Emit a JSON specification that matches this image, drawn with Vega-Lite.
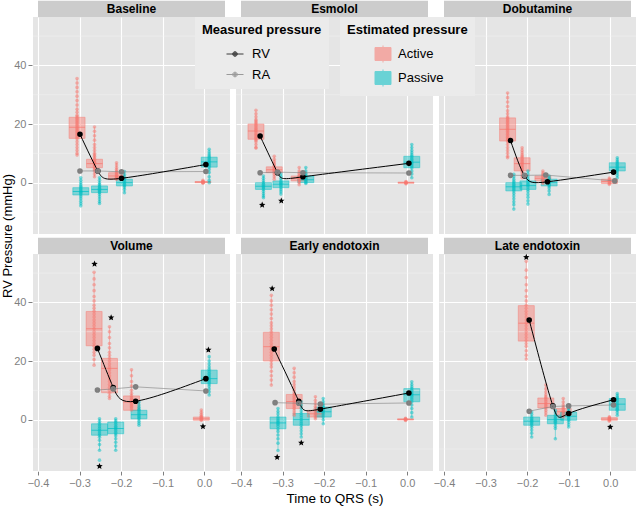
{
  "$schema": "https://vega.github.io/schema/vega-lite/v6.json",
  "padding": {"left": 1, "top": 0, "right": 1, "bottom": 0},
  "background": "white",
  "data": {"values": [
    {"k":"s","r":1,"c":1,"p":"Baseline"},
    {"k":"s","r":1,"c":2,"p":"Esmolol"},
    {"k":"s","r":1,"c":3,"p":"Dobutamine"},
    {"k":"s","r":2,"c":1,"p":"Volume"},
    {"k":"s","r":2,"c":2,"p":"Early endotoxin"},
    {"k":"s","r":2,"c":3,"p":"Late endotoxin"},

    {"k":"m","r":1,"c":1,"m":"RV","t":-0.299,"v":16.5},
    {"k":"m","r":1,"c":1,"m":"RV","t":-0.256,"v":4.0},
    {"k":"m","r":1,"c":1,"m":"RV","t":-0.199,"v":1.5},
    {"k":"m","r":1,"c":1,"m":"RV","t":0.004,"v":6.2},
    {"k":"m","r":1,"c":1,"m":"RA","t":-0.299,"v":4.0},
    {"k":"m","r":1,"c":1,"m":"RA","t":-0.256,"v":4.0},
    {"k":"m","r":1,"c":1,"m":"RA","t":-0.199,"v":3.7},
    {"k":"m","r":1,"c":1,"m":"RA","t":0.004,"v":3.8},

    {"k":"m","r":1,"c":2,"m":"RV","t":-0.354,"v":15.9},
    {"k":"m","r":1,"c":2,"m":"RV","t":-0.312,"v":3.4},
    {"k":"m","r":1,"c":2,"m":"RV","t":-0.251,"v":2.0},
    {"k":"m","r":1,"c":2,"m":"RV","t":0.004,"v":6.6},
    {"k":"m","r":1,"c":2,"m":"RA","t":-0.354,"v":3.4},
    {"k":"m","r":1,"c":2,"m":"RA","t":-0.312,"v":3.6},
    {"k":"m","r":1,"c":2,"m":"RA","t":-0.251,"v":3.4},
    {"k":"m","r":1,"c":2,"m":"RA","t":0.004,"v":3.3},

    {"k":"m","r":1,"c":3,"m":"RV","t":-0.24,"v":14.4},
    {"k":"m","r":1,"c":3,"m":"RV","t":-0.206,"v":2.3},
    {"k":"m","r":1,"c":3,"m":"RV","t":-0.151,"v":0.3},
    {"k":"m","r":1,"c":3,"m":"RV","t":0.008,"v":3.6},
    {"k":"m","r":1,"c":3,"m":"RA","t":-0.24,"v":2.5},
    {"k":"m","r":1,"c":3,"m":"RA","t":-0.206,"v":2.5},
    {"k":"m","r":1,"c":3,"m":"RA","t":-0.155,"v":2.6},
    {"k":"m","r":1,"c":3,"m":"RA","t":0.011,"v":0.6},

    {"k":"m","r":2,"c":1,"m":"RV","t":-0.257,"v":24.3},
    {"k":"m","r":2,"c":1,"m":"RV","t":-0.219,"v":11.0},
    {"k":"m","r":2,"c":1,"m":"RV","t":-0.165,"v":6.3},
    {"k":"m","r":2,"c":1,"m":"RV","t":0.004,"v":14.0},
    {"k":"m","r":2,"c":1,"m":"RA","t":-0.257,"v":10.1},
    {"k":"m","r":2,"c":1,"m":"RA","t":-0.219,"v":10.5},
    {"k":"m","r":2,"c":1,"m":"RA","t":-0.165,"v":11.2},
    {"k":"m","r":2,"c":1,"m":"RA","t":0.004,"v":9.8},

    {"k":"m","r":2,"c":2,"m":"RV","t":-0.32,"v":24.1},
    {"k":"m","r":2,"c":2,"m":"RV","t":-0.261,"v":6.3},
    {"k":"m","r":2,"c":2,"m":"RV","t":-0.209,"v":3.6},
    {"k":"m","r":2,"c":2,"m":"RV","t":0.004,"v":9.1},
    {"k":"m","r":2,"c":2,"m":"RA","t":-0.318,"v":5.8},
    {"k":"m","r":2,"c":2,"m":"RA","t":-0.261,"v":5.6},
    {"k":"m","r":2,"c":2,"m":"RA","t":-0.209,"v":5.3},
    {"k":"m","r":2,"c":2,"m":"RA","t":0.004,"v":5.7},

    {"k":"m","r":2,"c":3,"m":"RV","t":-0.195,"v":34.0},
    {"k":"m","r":2,"c":3,"m":"RV","t":-0.138,"v":4.7},
    {"k":"m","r":2,"c":3,"m":"RV","t":-0.1,"v":2.1},
    {"k":"m","r":2,"c":3,"m":"RV","t":0.008,"v":6.8},
    {"k":"m","r":2,"c":3,"m":"RA","t":-0.195,"v":2.9},
    {"k":"m","r":2,"c":3,"m":"RA","t":-0.138,"v":4.5},
    {"k":"m","r":2,"c":3,"m":"RA","t":-0.1,"v":4.7},
    {"k":"m","r":2,"c":3,"m":"RA","t":0.008,"v":5.0},

    {"k":"x","r":1,"c":2,"t":-0.349,"v":-7.6},
    {"k":"x","r":1,"c":2,"t":-0.303,"v":-6.2},
    {"k":"x","r":2,"c":1,"t":-0.264,"v":53.1},
    {"k":"x","r":2,"c":1,"t":-0.224,"v":34.8},
    {"k":"x","r":2,"c":1,"t":0.010,"v":23.8},
    {"k":"x","r":2,"c":1,"t":-0.003,"v":-2.3},
    {"k":"x","r":2,"c":1,"t":-0.252,"v":-15.9},
    {"k":"x","r":2,"c":2,"t":-0.325,"v":44.7},
    {"k":"x","r":2,"c":2,"t":-0.313,"v":-12.8},
    {"k":"x","r":2,"c":2,"t":-0.255,"v":-7.9},
    {"k":"x","r":2,"c":3,"t":-0.202,"v":55.4},
    {"k":"x","r":2,"c":3,"t":0.0,"v":-2.5},

    {"k":"b","r":1,"c":1,"g":"Active","t":-0.306,"lo":9.4,"q1":15.1,"md":18.9,"q3":22.3,"hi":35.5,"pts":[35.5,34,32.5,31,29.5,28,26.5,25,24,23,22.5,22,21.5,21,20.5,20,19.5,19,18.5,18,17.5,17,16.5,16,15.5,15,14,13,12,11,10,9.4]},
    {"k":"b","r":1,"c":1,"g":"Active","t":-0.264,"lo":2,"q1":5.1,"md":6.5,"q3":8,"hi":19,"pts":[19,17.5,16,14.5,13,12,11,10,9.5,9,8.5,8,7.5,7,6.5,6,5.5,5,4.5,4,3,2]},
    {"k":"b","r":1,"c":1,"g":"Active","t":-0.211,"lo":1.2,"q1":1.2,"md":2.3,"q3":3.4,"hi":6.8,"pts":[6.8,6,5.2,4.5,4,3.5,3,2.7,2.3,2,1.7,1.4,1.2]},
    {"k":"b","r":1,"c":1,"g":"Active","t":-0.003,"lo":-0.2,"q1":0,"md":0.2,"q3":0.4,"hi":0.8,"pts":[0.8,0.5,0.3,0.2,0.1,0,-0.2]},
    {"k":"b","r":1,"c":1,"g":"Passive","t":-0.297,"lo":-7.9,"q1":-4.2,"md":-3,"q3":-1.7,"hi":1.7,"pts":[1.7,0.8,0,-0.7,-1.2,-1.7,-2.1,-2.5,-2.9,-3.3,-3.7,-4.2,-4.8,-5.5,-6.3,-7.1,-7.9]},
    {"k":"b","r":1,"c":1,"g":"Passive","t":-0.252,"lo":-7.1,"q1":-3.4,"md":-2.3,"q3":-1.1,"hi":1.7,"pts":[1.7,0.8,0,-0.6,-1.1,-1.5,-1.9,-2.3,-2.7,-3.1,-3.4,-4,-4.8,-5.6,-6.4,-7.1]},
    {"k":"b","r":1,"c":1,"g":"Passive","t":-0.192,"lo":-3.4,"q1":-1.1,"md":0,"q3":1.2,"hi":3.8,"pts":[3.8,2.8,2,1.5,1,0.5,0,-0.5,-1,-1.5,-2.3,-3.4]},
    {"k":"b","r":1,"c":1,"g":"Passive","t":0.012,"lo":0,"q1":5.3,"md":7.1,"q3":8.7,"hi":11.4,"pts":[11.4,10.5,9.8,9.2,8.7,8.2,7.7,7.2,6.8,6.3,5.8,5.3,4.5,3.5,2,0.8,0]},

    {"k":"b","r":1,"c":2,"g":"Active","t":-0.364,"lo":11.8,"q1":14.8,"md":17.6,"q3":20,"hi":24.7,"pts":[24.7,23.5,22.5,21.5,21,20.5,20,19.5,19,18.5,18,17.6,17,16.5,16,15.5,15,14.5,14,13,12,11.8]},
    {"k":"b","r":1,"c":2,"g":"Active","t":-0.32,"lo":1.2,"q1":3.4,"md":4.4,"q3":5.4,"hi":9,"pts":[9,8,7.2,6.5,6,5.5,5,4.6,4.2,3.8,3.4,2.8,2,1.2]},
    {"k":"b","r":1,"c":2,"g":"Active","t":-0.26,"lo":-0.7,"q1":0.6,"md":1.4,"q3":2.3,"hi":5.2,"pts":[5.2,4,3.2,2.6,2.2,1.8,1.4,1,0.6,0.1,-0.7]},
    {"k":"b","r":1,"c":2,"g":"Active","t":-0.003,"lo":-0.4,"q1":-0.2,"md":0,"q3":0.2,"hi":0.4,"pts":[0.4,0.2,0,-0.2,-0.4]},
    {"k":"b","r":1,"c":2,"g":"Passive","t":-0.346,"lo":-5.1,"q1":-2.3,"md":-1.2,"q3":0,"hi":2.3,"pts":[2.3,1.5,0.7,0,-0.5,-1,-1.4,-1.8,-2.3,-3,-3.8,-4.5,-5.1]},
    {"k":"b","r":1,"c":2,"g":"Passive","t":-0.304,"lo":-3.9,"q1":-1.7,"md":-0.5,"q3":0.6,"hi":3,"pts":[3,2.2,1.4,0.6,0.1,-0.3,-0.7,-1.1,-1.7,-2.4,-3.1,-3.9]},
    {"k":"b","r":1,"c":2,"g":"Passive","t":-0.244,"lo":-0.3,"q1":0,"md":1,"q3":2.3,"hi":5.2,"pts":[5.2,4,3.2,2.6,2.2,1.8,1.3,0.9,0.5,0.1,-0.3]},
    {"k":"b","r":1,"c":2,"g":"Passive","t":0.011,"lo":1.7,"q1":5.1,"md":7,"q3":9,"hi":13,"pts":[13,12,11,10.2,9.5,9,8.5,8,7.5,7,6.5,6,5.5,5,4,3,1.7]},

    {"k":"b","r":1,"c":3,"g":"Active","t":-0.247,"lo":8.5,"q1":14.2,"md":18.2,"q3":22.1,"hi":30.6,"pts":[30.6,29,27.5,26,24.5,23.5,22.5,22,21.5,21,20.5,20,19.5,19,18.5,18,17.5,17,16.5,16,15.5,15,14.5,14,13,12,11,10,9,8.5]},
    {"k":"b","r":1,"c":3,"g":"Active","t":-0.212,"lo":1.7,"q1":4,"md":6.5,"q3":8.5,"hi":11.9,"pts":[11.9,11,10.2,9.5,9,8.5,8,7.5,7,6.5,6,5.5,5,4.5,4,3.3,2.5,1.7]},
    {"k":"b","r":1,"c":3,"g":"Active","t":-0.162,"lo":-0.3,"q1":0.6,"md":1.5,"q3":2.3,"hi":4,"pts":[4,3.3,2.8,2.3,1.9,1.5,1.1,0.6,0.2,-0.3]},
    {"k":"b","r":1,"c":3,"g":"Active","t":-0.002,"lo":-0.6,"q1":-0.3,"md":0.4,"q3":1.2,"hi":1.6,"pts":[1.6,1.2,0.8,0.4,0,-0.3,-0.6]},
    {"k":"b","r":1,"c":3,"g":"Passive","t":-0.232,"lo":-9,"q1":-2.8,"md":-1.4,"q3":0,"hi":2.9,"pts":[2.9,2,1.2,0.5,0,-0.5,-1,-1.4,-1.8,-2.3,-2.8,-3.6,-4.5,-5.5,-6.5,-7.5,-9]},
    {"k":"b","r":1,"c":3,"g":"Passive","t":-0.198,"lo":-7.3,"q1":-2.3,"md":-1,"q3":0.6,"hi":4,"pts":[4,3,2,1.2,0.6,0,-0.5,-1,-1.5,-2.3,-3,-4,-5,-6.2,-7.3]},
    {"k":"b","r":1,"c":3,"g":"Passive","t":-0.147,"lo":-4,"q1":-1.1,"md":0,"q3":1.2,"hi":2.3,"pts":[2.3,1.6,1.2,0.7,0.3,0,-0.4,-0.8,-1.1,-1.8,-2.8,-4]},
    {"k":"b","r":1,"c":3,"g":"Passive","t":0.017,"lo":1.7,"q1":4,"md":5.3,"q3":6.8,"hi":8.5,"pts":[8.5,7.8,7.2,6.8,6.3,5.8,5.3,4.8,4.4,4,3.3,2.5,1.7]},

    {"k":"b","r":2,"c":1,"g":"Active","t":-0.265,"lo":18.6,"q1":25.2,"md":31,"q3":36.9,"hi":50.3,"pts":[50.3,48,46,44,42,40.5,39,38,37,36,35,34,33,32,31,30,29,28,27,26,25,24,23,22,20.5,18.6]},
    {"k":"b","r":2,"c":1,"g":"Active","t":-0.228,"lo":7.2,"q1":9.2,"md":17.5,"q3":20.9,"hi":31.7,"pts":[31.7,30,28,26,24.5,23,22,21,20,19,18,17,16,15,14,13,12,11,10,9,8,7.2]},
    {"k":"b","r":2,"c":1,"g":"Active","t":-0.175,"lo":3.2,"q1":3.2,"md":6,"q3":8.1,"hi":17,"pts":[17,15,13,11.5,10,9,8.2,7.5,7,6.5,6,5.5,5,4.5,4,3.3]},
    {"k":"b","r":2,"c":1,"g":"Active","t":-0.007,"lo":-0.2,"q1":-0.2,"md":0.3,"q3":0.9,"hi":3.3,"pts":[3.3,2.5,1.8,1.2,0.9,0.6,0.3,0,-0.2]},
    {"k":"b","r":2,"c":1,"g":"Passive","t":-0.252,"lo":-10.4,"q1":-5.3,"md":-3.6,"q3":-1.4,"hi":0.3,"pts":[0.3,-0.5,-1.2,-1.8,-2.4,-3,-3.6,-4.2,-4.8,-5.3,-6,-7,-8.5,-10.4,-13.8]},
    {"k":"b","r":2,"c":1,"g":"Passive","t":-0.213,"lo":-10.4,"q1":-4.8,"md":-3,"q3":-0.8,"hi":0.3,"pts":[0.3,-0.4,-1,-1.6,-2.2,-2.7,-3.2,-3.7,-4.3,-4.8,-5.5,-6.5,-7.7,-9,-10.4]},
    {"k":"b","r":2,"c":1,"g":"Passive","t":-0.157,"lo":-1.9,"q1":0.3,"md":1.7,"q3":3.2,"hi":6,"pts":[6,5,4.2,3.6,3.2,2.7,2.2,1.7,1.2,0.7,0.3,-0.5,-1.2,-1.9]},
    {"k":"b","r":2,"c":1,"g":"Passive","t":0.012,"lo":8.4,"q1":12.3,"md":14,"q3":16.9,"hi":21.5,"pts":[21.5,20,19,18,17.2,16.5,15.8,15.2,14.6,14,13.4,12.8,12.2,11.5,10.5,9.5,8.4]},

    {"k":"b","r":2,"c":2,"g":"Active","t":-0.327,"lo":11.8,"q1":20,"md":24.9,"q3":29.8,"hi":42.4,"pts":[42.4,40.5,39,37.5,36,34.5,33,32,31,30,29,28,27,26,25,24,23,22,21,20,19,18,16.5,15,13.5,11.8]},
    {"k":"b","r":2,"c":2,"g":"Active","t":-0.272,"lo":1.5,"q1":3.8,"md":6.2,"q3":8.6,"hi":17.5,"pts":[17.5,16,14.5,13,12,11,10,9.2,8.6,8,7.4,6.8,6.2,5.6,5,4.4,3.8,3,2.2,1.5]},
    {"k":"b","r":2,"c":2,"g":"Active","t":-0.221,"lo":0.3,"q1":0.9,"md":2,"q3":3.2,"hi":7.8,"pts":[7.8,6.5,5.5,4.6,3.9,3.2,2.6,2,1.5,0.9,0.3]},
    {"k":"b","r":2,"c":2,"g":"Active","t":-0.004,"lo":-0.3,"q1":-0.1,"md":0.1,"q3":0.3,"hi":0.5,"pts":[0.5,0.3,0.1,-0.1,-0.3]},
    {"k":"b","r":2,"c":2,"g":"Passive","t":-0.311,"lo":-10.5,"q1":-3.1,"md":-1.1,"q3":0.9,"hi":3.8,"pts":[3.8,2.8,1.9,0.9,0.3,-0.3,-0.8,-1.1,-1.6,-2.2,-3.1,-4,-5.2,-6.5,-8,-10.5]},
    {"k":"b","r":2,"c":2,"g":"Passive","t":-0.255,"lo":-5.9,"q1":-1.9,"md":0,"q3":2.1,"hi":6.1,"pts":[6.1,5,4,3,2.1,1.4,0.7,0,-0.7,-1.3,-1.9,-2.8,-3.8,-4.8,-5.9]},
    {"k":"b","r":2,"c":2,"g":"Passive","t":-0.202,"lo":-1.4,"q1":0.9,"md":2.7,"q3":4.3,"hi":7.2,"pts":[7.2,6.2,5.4,4.8,4.3,3.7,3.2,2.7,2.2,1.6,0.9,0,-1.4]},
    {"k":"b","r":2,"c":2,"g":"Passive","t":0.011,"lo":0.9,"q1":6.1,"md":8.5,"q3":10.6,"hi":12.9,"pts":[12.9,12,11.2,10.6,10,9.4,8.8,8.5,8,7.4,6.8,6.1,5,3.8,2.4,0.9]},

    {"k":"b","r":2,"c":3,"g":"Active","t":-0.202,"lo":20.7,"q1":26.8,"md":32.9,"q3":38.9,"hi":54,"pts":[54,51,48.5,46,44,42,40.5,39,38,37,36,35,34,33,32,31,30,29,28,27,26,25,23.5,22,20.7]},
    {"k":"b","r":2,"c":3,"g":"Active","t":-0.155,"lo":1.5,"q1":4,"md":5.5,"q3":7.4,"hi":11.8,"pts":[11.8,10.5,9.4,8.5,7.8,7.4,6.8,6.2,5.5,5,4.5,4,3.2,2.4,1.5]},
    {"k":"b","r":2,"c":3,"g":"Active","t":-0.113,"lo":0.9,"q1":1.5,"md":2.7,"q3":3.8,"hi":7.2,"pts":[7.2,6,5,4.3,3.8,3.3,2.7,2.2,1.5,0.9]},
    {"k":"b","r":2,"c":3,"g":"Active","t":-0.002,"lo":-0.5,"q1":-0.2,"md":0.2,"q3":0.7,"hi":1,"pts":[1,0.7,0.4,0.2,0,-0.2,-0.5]},
    {"k":"b","r":2,"c":3,"g":"Passive","t":-0.189,"lo":-5.9,"q1":-1.9,"md":-0.5,"q3":0.9,"hi":2.6,"pts":[2.6,1.8,0.9,0.4,-0.1,-0.5,-1,-1.4,-1.9,-2.6,-3.5,-4.6,-5.9]},
    {"k":"b","r":2,"c":3,"g":"Passive","t":-0.132,"lo":-6.5,"q1":-1.4,"md":0,"q3":1.5,"hi":3.2,"pts":[3.2,2.4,1.5,0.9,0.4,0,-0.5,-0.9,-1.4,-2.2,-3,-6.5]},
    {"k":"b","r":2,"c":3,"g":"Passive","t":-0.1,"lo":-2.5,"q1":-0.2,"md":1.2,"q3":2.6,"hi":3.8,"pts":[3.8,3.2,2.6,2,1.6,1.2,0.7,0.2,-0.2,-0.9,-1.7,-2.5]},
    {"k":"b","r":2,"c":3,"g":"Passive","t":0.017,"lo":1.5,"q1":3.2,"md":5.3,"q3":7.2,"hi":8.9,"pts":[8.9,8.2,7.6,7.2,6.6,6,5.3,4.7,4.1,3.6,3.2,2.4,1.5]}
  ]},
  "facet": {
    "row": {"field": "r", "type": "ordinal", "header": {"labels": false, "labelPadding": 0, "title": "RV Pressure (mmHg)", "titleOrient": "left", "titleFontSize": 13, "titleFontWeight": "normal", "titleFont": "Liberation Sans", "titleColor": "black", "titlePadding": -12}},
    "column": {"field": "c", "type": "ordinal", "header": {"labels": false, "title": "Time to QRS (s)", "titleOrient": "bottom", "titleFontSize": 13.5, "titleFontWeight": "normal", "titleFont": "Liberation Sans", "titleColor": "black", "titlePadding": -6, "labelPadding": 0}}
  },
  "spacing": {"row": 3, "column": 4},
  "spec": {
    "width": 197,
    "height": 217,
    "layer": [
      {
        "transform": [{"filter": "datum.k === 'b'"}],
        "mark": {"type": "bar", "size": 16, "opacity": 0.45},
        "encoding": {
          "x": {"field": "t", "type": "quantitative", "scale": {"domain": [-0.4, 0.05], "nice": false, "zero": false},
                "axis": {"title": null, "values": [-0.4,-0.35,-0.3,-0.25,-0.2,-0.15,-0.1,-0.05,0], "format": ".1f",
                         "labelExpr": "abs(datum.value*10 - round(datum.value*10)) < 0.001 ? datum.label : ''",
                         "gridWidth": {"condition": {"test": "abs(datum.value*10 - round(datum.value*10)) < 0.001", "value": 1.1}, "value": 0.5},
                         "gridColor": {"condition": {"test": "abs(datum.value*10 - round(datum.value*10)) < 0.001", "value": "#FFFFFF"}, "value": "#F2F2F2"},
                         "tickOpacity": {"condition": {"test": "abs(datum.value*10 - round(datum.value*10)) < 0.001", "value": 1}, "value": 0}}},
          "y": {"field": "q1", "type": "quantitative", "scale": {"domain": [-17.5, 56.5], "nice": false, "zero": false},
                "axis": {"title": null, "values": [0, 20, 40], "grid": true, "gridColor": "#FFFFFF", "gridWidth": 1.1, "labels": true, "ticks": true}},
          "y2": {"field": "q3"},
          "color": {"field": "g", "type": "nominal", "scale": {"domain": ["Active", "Passive"], "range": ["#F8766D", "#00BFC4"]},
                    "legend": {"title": "Estimated pressure", "orient": "none", "legendX": 307, "legendY": 0, "symbolType": "M-0.94,-0.76H0.94V0.76H-0.94Z M0,-1V-0.76 M0,0.76V1 M-0.94,0H0.94", "symbolSize": 289, "symbolOffset": 27, "labelOffset": 6, "symbolOpacity": 0.55, "symbolStrokeWidth": 1, "rowPadding": 2, "titlePadding": 8}}
        }
      },
      {
        "transform": [{"filter": "datum.k === 's'"}],
        "mark": {"type": "rule", "color": "#F2F2F2", "strokeWidth": 0.5},
        "encoding": {"y": {"datum": -10, "type": "quantitative"}}
      },
      {
        "transform": [{"filter": "datum.k === 's'"}],
        "mark": {"type": "rule", "color": "#F2F2F2", "strokeWidth": 0.5},
        "encoding": {"y": {"datum": 10, "type": "quantitative"}}
      },
      {
        "transform": [{"filter": "datum.k === 's'"}],
        "mark": {"type": "rule", "color": "#F2F2F2", "strokeWidth": 0.5},
        "encoding": {"y": {"datum": 30, "type": "quantitative"}}
      },
      {
        "transform": [{"filter": "datum.k === 's'"}],
        "mark": {"type": "rule", "color": "#F2F2F2", "strokeWidth": 0.5},
        "encoding": {"y": {"datum": 50, "type": "quantitative"}}
      },
      {
        "transform": [{"filter": "datum.k === 's'"}],
        "mark": {"type": "rect", "fill": "#CCCCCC", "clip": false},
        "encoding": {
          "x": {"datum": -0.4, "type": "quantitative"},
          "x2": {"datum": 0.05},
          "y": {"datum": 56.5, "type": "quantitative"},
          "y2": {"datum": 62}
        }
      },
      {
        "transform": [{"filter": "datum.k === 's'"}],
        "mark": {"type": "text", "fontWeight": "bold", "fontSize": 12, "font": "Liberation Sans", "baseline": "middle", "align": "center", "color": "black", "clip": false},
        "encoding": {
          "x": {"datum": -0.175, "type": "quantitative"},
          "y": {"datum": 59.3, "type": "quantitative"},
          "text": {"field": "p", "type": "nominal"}
        }
      },
      {
        "transform": [{"filter": "datum.k === 'b'"}],
        "mark": {"type": "bar", "size": 16, "filled": false, "opacity": 0.55, "strokeWidth": 0.8},
        "encoding": {
          "x": {"field": "t", "type": "quantitative"},
          "y": {"field": "q1", "type": "quantitative"},
          "y2": {"field": "q3"},
          "color": {"field": "g", "type": "nominal"}
        }
      },
      {
        "transform": [{"filter": "datum.k === 'b'"}],
        "mark": {"type": "rule", "opacity": 0.55, "strokeWidth": 0.8},
        "encoding": {
          "x": {"field": "t", "type": "quantitative"},
          "y": {"field": "lo", "type": "quantitative"},
          "y2": {"field": "q1"},
          "color": {"field": "g", "type": "nominal"}
        }
      },
      {
        "transform": [{"filter": "datum.k === 'b'"}],
        "mark": {"type": "rule", "opacity": 0.55, "strokeWidth": 0.8},
        "encoding": {
          "x": {"field": "t", "type": "quantitative"},
          "y": {"field": "q3", "type": "quantitative"},
          "y2": {"field": "hi"},
          "color": {"field": "g", "type": "nominal"}
        }
      },
      {
        "transform": [{"filter": "datum.k === 'b'"}],
        "mark": {"type": "tick", "orient": "horizontal", "size": 16, "thickness": 1, "opacity": 0.7},
        "encoding": {
          "x": {"field": "t", "type": "quantitative"},
          "y": {"field": "md", "type": "quantitative"},
          "color": {"field": "g", "type": "nominal"}
        }
      },
      {
        "transform": [{"filter": "datum.k === 'b'"}, {"flatten": ["pts"], "as": ["pv"]}],
        "mark": {"type": "circle", "size": 13, "opacity": 0.5},
        "encoding": {
          "x": {"field": "t", "type": "quantitative"},
          "y": {"field": "pv", "type": "quantitative"},
          "color": {"field": "g", "type": "nominal"}
        }
      },
      {
        "transform": [{"filter": "datum.k === 'm' && datum.m === 'RA'"}],
        "mark": {"type": "line", "strokeWidth": 0.8, "opacity": 0.75},
        "encoding": {
          "x": {"field": "t", "type": "quantitative"},
          "y": {"field": "v", "type": "quantitative"},
          "stroke": {"field": "m", "type": "nominal", "scale": {"domain": ["RV", "RA"], "range": ["#000000", "#7F7F7F"]},
                     "legend": {"title": "Measured pressure", "orient": "none", "legendX": 162, "legendY": 0, "symbolType": "M-1,0H1M0.27,0A0.27,0.27 0 1,1 -0.27,0A0.27,0.27 0 1,1 0.27,0M0.17,0A0.17,0.17 0 1,1 -0.17,0A0.17,0.17 0 1,1 0.17,0M0.07,0A0.07,0.07 0 1,1 -0.07,0A0.07,0.07 0 1,1 0.07,0", "symbolSize": 289, "symbolOffset": 24, "labelOffset": 8, "symbolStrokeWidth": 1, "rowPadding": 4.5, "titlePadding": 8}}
        }
      },
      {
        "transform": [{"filter": "datum.k === 'm' && datum.m === 'RV'"}],
        "mark": {"type": "line", "strokeWidth": 1, "interpolate": "natural"},
        "encoding": {
          "x": {"field": "t", "type": "quantitative"},
          "y": {"field": "v", "type": "quantitative"},
          "stroke": {"field": "m", "type": "nominal"}
        }
      },
      {
        "transform": [{"filter": "datum.k === 'm'"}],
        "mark": {"type": "point", "shape": "circle", "filled": false, "size": 9, "strokeWidth": 2.6, "opacity": 1},
        "encoding": {
          "x": {"field": "t", "type": "quantitative"},
          "y": {"field": "v", "type": "quantitative"},
          "stroke": {"field": "m", "type": "nominal"}
        }
      },
      {
        "transform": [{"filter": "datum.k === 'x'"}],
        "mark": {"type": "point", "shape": "M0,-1L0.265,-0.364L0.951,-0.309L0.428,0.139L0.588,0.809L0,0.45L-0.588,0.809L-0.428,0.139L-0.951,-0.309L-0.265,-0.364Z", "filled": true, "color": "black", "size": 45, "opacity": 1},
        "encoding": {
          "x": {"field": "t", "type": "quantitative"},
          "y": {"field": "v", "type": "quantitative"}
        }
      }
    ]
  },
  "config": {
    "font": "Liberation Sans",
    "view": {"fill": "#E5E5E5", "stroke": null},
    "axis": {"domain": false, "grid": true, "labelColor": "#7F7F7F", "labelFontSize": 11, "labelFont": "Liberation Sans", "tickColor": "#7F7F7F", "tickSize": 4, "labelPadding": 2},
    "legend": {"titleFontSize": 13, "titleFont": "Liberation Sans", "titleFontWeight": "bold", "titleColor": "black", "labelFontSize": 13, "labelFont": "Liberation Sans", "labelColor": "black", "fillColor": "#EBEBEB", "padding": 7}
  }
}
